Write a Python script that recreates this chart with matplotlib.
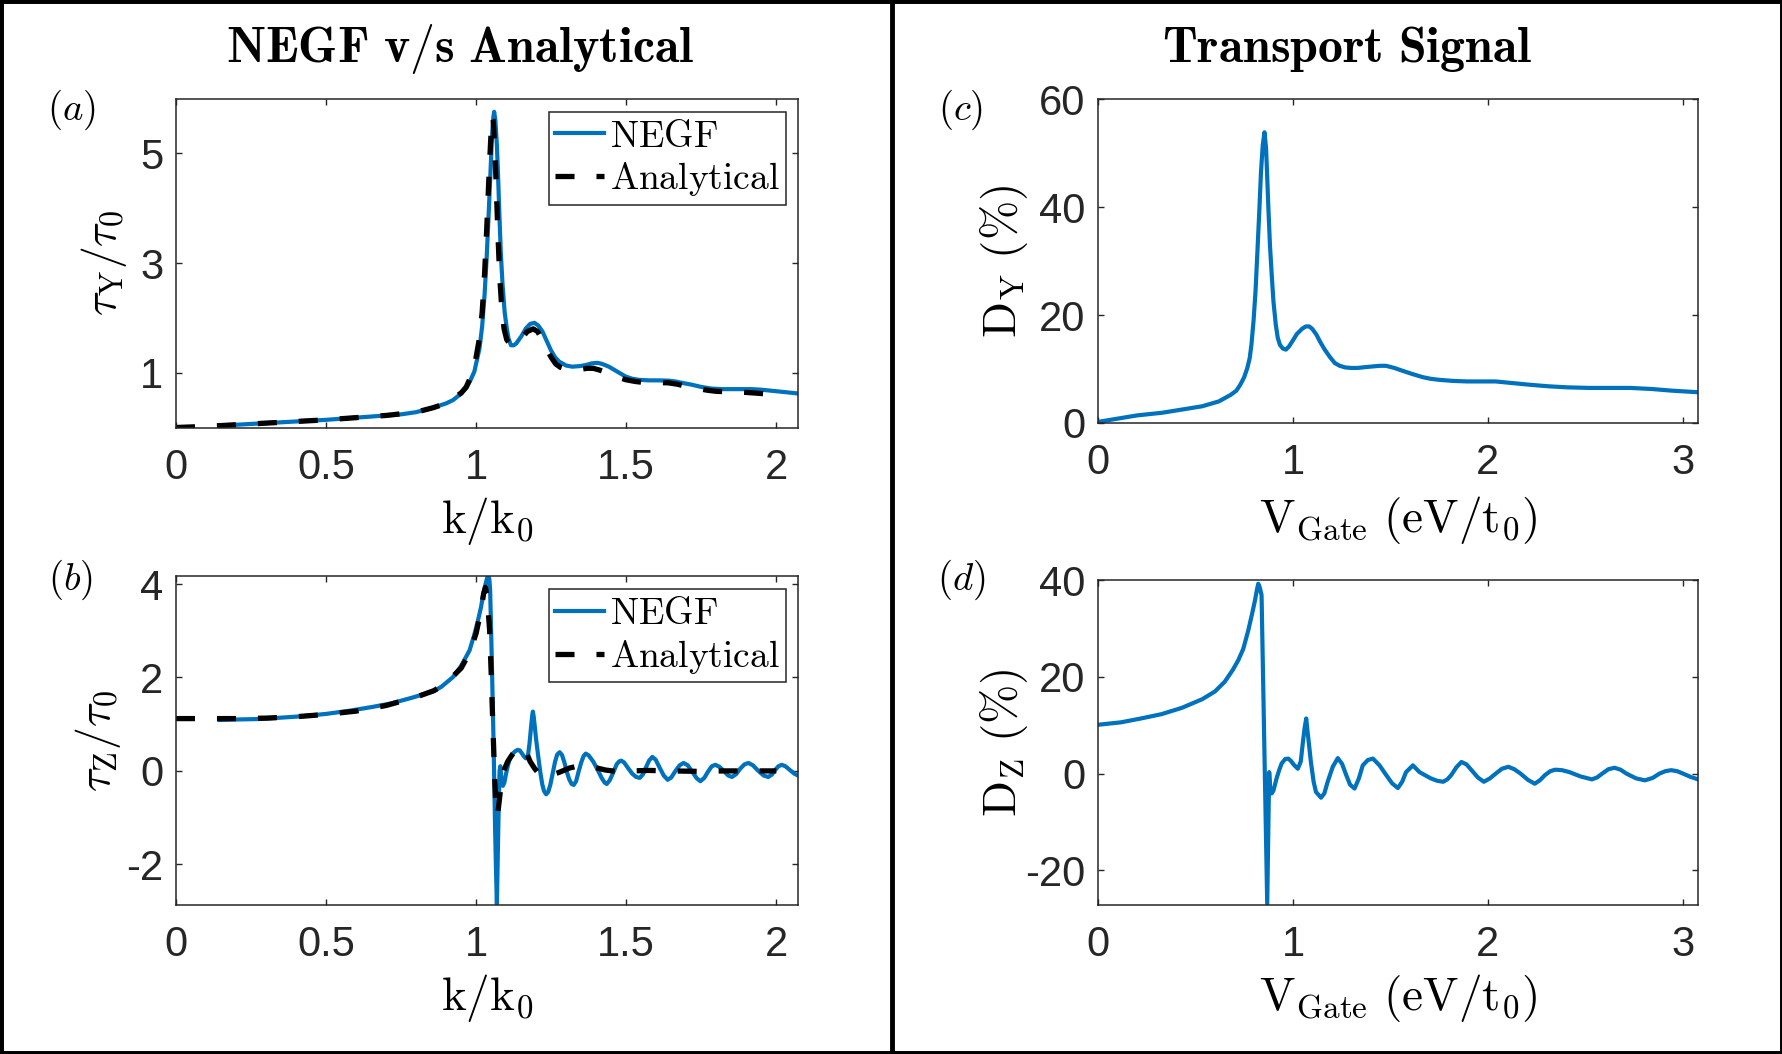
import numpy as np
import matplotlib
matplotlib.use("Agg")
import matplotlib.pyplot as plt
from matplotlib.patches import Rectangle
from matplotlib.lines import Line2D

plt.rcParams['mathtext.fontset'] = 'cm'
plt.rcParams['font.family'] = ['Liberation Sans', 'DejaVu Sans']
plt.rcParams['lines.scale_dashes'] = False
plt.rcParams['axes.unicode_minus'] = False

# (a) tau_Y / tau_0 vs k/k0
k_a_negf = [0.145, 0.2, 0.3, 0.4, 0.5, 0.6, 0.7, 0.75, 0.8, 0.856, 0.9, 0.923, 0.95, 0.967,
            0.98, 0.994, 1.011, 1.02, 1.028, 1.035, 1.042, 1.048, 1.053, 1.057, 1.06, 1.064,
            1.069, 1.073, 1.077, 1.082, 1.088, 1.095, 1.102, 1.108, 1.116, 1.125, 1.133, 1.15,
            1.166, 1.18, 1.194, 1.207, 1.221, 1.235, 1.249, 1.263, 1.277, 1.3, 1.32, 1.345,
            1.365, 1.385, 1.404, 1.42, 1.442, 1.47, 1.498, 1.52, 1.542, 1.575, 1.608, 1.64,
            1.664, 1.69, 1.719, 1.75, 1.785, 1.82, 1.852, 1.89, 1.918, 1.95, 1.985, 2.03, 2.073]
tauY_negf = [0.04, 0.05, 0.08, 0.11, 0.14, 0.18, 0.22, 0.24, 0.28, 0.36, 0.44, 0.50, 0.62, 0.72,
             0.85, 1.02, 1.44, 1.85, 2.42, 3.1, 3.94, 4.7, 5.33, 5.65, 5.76, 5.6,
             5.15, 4.6, 3.94, 3.2, 2.6, 2.1, 1.81, 1.62, 1.50, 1.50, 1.53, 1.66,
             1.81, 1.89, 1.91, 1.86, 1.75, 1.58, 1.41, 1.28, 1.20, 1.13, 1.11, 1.12,
             1.14, 1.17, 1.18, 1.16, 1.11, 1.02, 0.93, 0.89, 0.87, 0.86, 0.86, 0.855,
             0.84, 0.81, 0.78, 0.74, 0.71, 0.70, 0.70, 0.70, 0.70, 0.69, 0.67, 0.645, 0.62]

k_a_ana = [0.0, 0.1, 0.2, 0.3, 0.4, 0.5, 0.6, 0.7, 0.8, 0.856, 0.9, 0.95, 0.967, 0.98, 0.994,
           1.01, 1.02, 1.028, 1.035, 1.042, 1.048, 1.053, 1.057, 1.062, 1.067, 1.072, 1.078,
           1.085, 1.093, 1.102, 1.116, 1.13, 1.15, 1.17, 1.19, 1.205, 1.22, 1.235, 1.25, 1.265,
           1.28, 1.3, 1.32, 1.345, 1.37, 1.39, 1.41, 1.44, 1.47, 1.5, 1.53, 1.56, 1.6, 1.64,
           1.67, 1.7, 1.73, 1.77, 1.8, 1.85, 1.9, 1.95, 2.0]
tauY_ana = [0.0, 0.02, 0.05, 0.08, 0.11, 0.14, 0.18, 0.22, 0.28, 0.36, 0.44, 0.63, 0.74, 0.9, 1.1,
            1.6, 2.1, 2.8, 3.6, 4.5, 5.2, 5.67, 5.6, 5.1, 4.4, 3.6, 2.8,
            2.2, 1.8, 1.6, 1.5, 1.52, 1.62, 1.75, 1.80, 1.75, 1.6, 1.43, 1.28, 1.16,
            1.10, 1.06, 1.05, 1.06, 1.08, 1.08, 1.05, 0.99, 0.92, 0.87, 0.84, 0.82, 0.82, 0.815,
            0.79, 0.75, 0.72, 0.68, 0.66, 0.65, 0.64, 0.62, 0.60]

# (b) tau_Z / tau_0 vs k/k0
k_b_negf = [0.145, 0.2, 0.273, 0.35, 0.42, 0.5, 0.58, 0.655, 0.72, 0.788, 0.856, 0.884, 0.923,
            0.95, 0.978, 0.993, 1.006, 1.016, 1.024, 1.032, 1.037, 1.041, 1.044, 1.0466, 1.052,
            1.058, 1.063, 1.066, 1.069, 1.072, 1.075, 1.078, 1.0805, 1.084, 1.089, 1.094, 1.1,
            1.106, 1.111, 1.12, 1.13, 1.138, 1.145, 1.152, 1.158, 1.165, 1.172, 1.178, 1.183,
            1.187, 1.189, 1.192, 1.196, 1.2, 1.207, 1.214, 1.22, 1.226, 1.233, 1.24, 1.247,
            1.255, 1.263, 1.27, 1.278, 1.286, 1.294, 1.302, 1.31, 1.318, 1.325, 1.333, 1.341,
            1.35, 1.358, 1.365, 1.375, 1.39, 1.405, 1.418, 1.428, 1.435, 1.445, 1.457, 1.468,
            1.476, 1.483, 1.493, 1.506, 1.52, 1.533, 1.545, 1.556, 1.566, 1.576, 1.587, 1.598,
            1.612, 1.625, 1.638, 1.65, 1.664, 1.678, 1.691, 1.705, 1.72, 1.735, 1.747, 1.76,
            1.772, 1.785, 1.797, 1.81, 1.825, 1.84, 1.852, 1.866, 1.88, 1.894, 1.907, 1.922,
            1.94, 1.958, 1.973, 1.985, 1.996, 2.007, 2.018, 2.03, 2.045, 2.06, 2.073]
tauZ_negf = [1.09, 1.10, 1.11, 1.14, 1.17, 1.22, 1.29, 1.37, 1.45, 1.57, 1.70, 1.80, 2.01,
             2.25, 2.58, 2.9, 3.22, 3.5, 3.79, 4.02, 4.14, 4.17, 4.1, 3.87, 2.4,
             0.6, -1.2, -2.1, -2.85, -1.8, -0.8, 0.0, 0.1, -0.15, -0.32, -0.25, -0.05,
             0.12, 0.24, 0.36, 0.42, 0.45, 0.44, 0.38, 0.32, 0.27, 0.3, 0.6, 0.95,
             1.2, 1.27, 1.15, 0.9, 0.66, 0.3, -0.04, -0.28, -0.43, -0.5, -0.45, -0.3,
             -0.05, 0.2, 0.35, 0.4, 0.34, 0.18, -0.02, -0.18, -0.28, -0.3, -0.22, -0.02,
             0.18, 0.32, 0.37, 0.33, 0.2, 0.02, -0.15, -0.25, -0.28, -0.2, -0.03, 0.14,
             0.2, 0.22, 0.18, 0.06, -0.06, -0.13, -0.15, -0.07, 0.08, 0.22, 0.3, 0.24,
             0.06, -0.1, -0.19, -0.14, 0.0, 0.12, 0.17, 0.12, -0.02, -0.16, -0.22, -0.15,
             -0.02, 0.1, 0.13, 0.09, 0.0, -0.1, -0.13, -0.07, 0.05, 0.14, 0.17, 0.12,
             0.0, -0.1, -0.13, -0.08, 0.02, 0.1, 0.13, 0.1, 0.02, -0.06, -0.10]

k_b_ana = [0.0, 0.1, 0.2, 0.3, 0.4, 0.5, 0.6, 0.7, 0.8, 0.86, 0.9, 0.95, 0.98, 1.0, 1.015,
           1.025, 1.031, 1.037, 1.045, 1.05, 1.055, 1.062, 1.066, 1.069, 1.072, 1.075, 1.083,
           1.095, 1.105, 1.116, 1.135, 1.149, 1.16, 1.17, 1.18, 1.195, 1.21, 1.225, 1.245,
           1.277, 1.31, 1.343, 1.37, 1.398, 1.43, 1.465, 1.52, 1.575, 1.65, 1.741, 1.83,
           1.93, 2.0]
tauZ_ana = [1.12, 1.12, 1.12, 1.13, 1.16, 1.21, 1.28, 1.40, 1.58, 1.72, 1.88, 2.2, 2.55, 2.95,
            3.4, 3.8, 3.93, 3.7, 3.0, 2.1, 1.1, -0.2, -0.75, -0.95, -0.9, -0.75, -0.3,
            0.05, 0.2, 0.31, 0.48, 0.52, 0.47, 0.35, 0.2, 0.05, -0.07, -0.12, -0.1,
            -0.03, 0.06, 0.11, 0.1, 0.07, 0.02, -0.01, 0.0, 0.01, 0.0, -0.01, 0.0,
            0.0, 0.0]

# (c) D_Y (%) vs V_Gate
v_c = [0.0, 0.117, 0.2, 0.33, 0.45, 0.535, 0.62, 0.68, 0.71, 0.73, 0.75, 0.766, 0.778, 0.787,
       0.798, 0.808, 0.818, 0.828, 0.836, 0.845, 0.854, 0.862, 0.868, 0.874, 0.882, 0.891,
       0.9, 0.912, 0.922, 0.933, 0.948, 0.964, 0.98, 0.996, 1.02, 1.048, 1.066, 1.084, 1.1,
       1.12, 1.14, 1.163, 1.19, 1.215, 1.24, 1.268, 1.3, 1.33, 1.37, 1.414, 1.445, 1.477,
       1.52, 1.56, 1.61, 1.665, 1.705, 1.749, 1.82, 1.895, 1.97, 2.04, 2.125, 2.21, 2.31,
       2.41, 2.52, 2.63, 2.73, 2.84, 2.94, 3.077]
dY_c = [0.2, 0.9, 1.4, 1.9, 2.6, 3.1, 4.0, 5.2, 6.0, 7.1, 8.5, 10.2, 12.0, 14.5,
        19.0, 24.4, 32.0, 39.8, 46.5, 51.5, 53.9, 51.0, 45.5, 39.8, 33.0, 27.5,
        22.5, 18.2, 15.8, 14.5, 13.8, 13.6, 14.2, 15.1, 16.5, 17.5, 17.9, 17.9, 17.4,
        16.4, 15.0, 13.6, 12.2, 11.1, 10.6, 10.3, 10.2, 10.2, 10.35, 10.5, 10.6, 10.6,
        10.2, 9.7, 9.1, 8.5, 8.2, 8.0, 7.8, 7.7, 7.7, 7.7, 7.4, 7.1, 6.8,
        6.6, 6.5, 6.5, 6.5, 6.3, 6.0, 5.7]

# (d) D_Z (%) vs V_Gate
v_d = [0.0, 0.117, 0.22, 0.326, 0.43, 0.535, 0.6, 0.65, 0.692, 0.72, 0.745, 0.77, 0.79,
       0.805, 0.815, 0.822, 0.83, 0.839, 0.868, 0.878, 0.884, 0.891, 0.9, 0.916, 0.93,
       0.942, 0.96, 0.976, 0.99, 1.005, 1.025, 1.04, 1.051, 1.06, 1.068, 1.074, 1.081,
       1.092, 1.106, 1.118, 1.144, 1.161, 1.178, 1.204, 1.23, 1.252, 1.273, 1.293, 1.316,
       1.338, 1.358, 1.384, 1.41, 1.444, 1.478, 1.508, 1.538, 1.56, 1.58, 1.615, 1.649,
       1.68, 1.707, 1.74, 1.77, 1.792, 1.812, 1.838, 1.864, 1.89, 1.916, 1.948, 1.979,
       2.01, 2.04, 2.072, 2.105, 2.135, 2.167, 2.205, 2.24, 2.266, 2.293, 2.32, 2.345,
       2.38, 2.418, 2.475, 2.533, 2.56, 2.586, 2.618, 2.649, 2.68, 2.71, 2.76, 2.805,
       2.845, 2.88, 2.91, 2.94, 2.97, 3.0, 3.04, 3.077]
dZ_d = [10.1, 10.6, 11.4, 12.3, 13.6, 15.4, 17.0, 19.0, 21.5, 23.5, 25.8, 29.5, 33.0,
        35.8, 38.0, 39.3, 38.5, 36.9, -27.0, 0.3, -3.5, -4.1, -3.5, -1.0, 0.8,
        2.1, 3.0, 3.1, 2.6, 1.8, 1.0, 2.5, 6.5, 9.5, 11.4, 9.0, 6.5,
        2.4, -1.7, -3.8, -5.0, -4.1, -1.7, 1.4, 3.2, 2.0, -0.3, -2.3, -3.1,
        -1.0, 1.7, 2.8, 3.1, 1.7, -0.3, -2.0, -3.0, -1.7, 0.3, 1.7, 0.3,
        -0.4, -1.0, -1.5, -1.7, -1.2, -0.3, 1.3, 2.4, 1.9, 0.7, -0.8, -1.7,
        -1.0, 0.0, 1.0, 1.4, 0.9, 0.0, -1.3, -2.1, -1.4, -0.3, 0.5, 0.8,
        0.7, 0.3, -0.6, -1.2, -0.8, 0.0, 0.9, 1.2, 0.8, 0.0, -1.0, -1.4,
        -0.9, 0.0, 0.5, 0.7, 0.5, 0.0, -0.7, -1.2]

blue = '#0072BD'
axc = '0.15'
tick_fs = 30
label_fs = 34

fig = plt.figure(figsize=(17.83, 10.54), dpi=100)
ax_a = fig.add_axes([0.0987, 0.5944, 0.349, 0.312])
ax_b = fig.add_axes([0.0987, 0.1414, 0.349, 0.312])
ax_c = fig.add_axes([0.6158, 0.5987, 0.3365, 0.307])
ax_d = fig.add_axes([0.6158, 0.1414, 0.3365, 0.308])


def style(ax):
    ax.tick_params(direction='in', top=True, right=True, length=4.5, width=1,
                   colors=axc, labelsize=tick_fs)
    ax.tick_params(axis='x', pad=14.5)
    ax.tick_params(axis='y', pad=9)
    for s in ax.spines.values():
        s.set_color(axc)
        s.set_linewidth(1.1)


ax_a.plot(k_a_negf, tauY_negf, color=blue, lw=3.0, label=r'$\mathrm{NEGF}$')
ax_a.plot(k_a_ana, tauY_ana, color='k', lw=3.8, dashes=(13.7, 15.8), label=r'$\mathrm{Analytical}$')
ax_a.set_xlim(0, 2.073)
ax_a.set_ylim(0, 6)
ax_a.set_xticks([0, 0.5, 1, 1.5, 2], ['0', '0.5', '1', '1.5', '2'])
ax_a.set_yticks([1, 3, 5])

ax_b.plot(k_b_negf, tauZ_negf, color=blue, lw=3.0, label=r'$\mathrm{NEGF}$')
ax_b.plot(k_b_ana, tauZ_ana, color='k', lw=3.8, dashes=(13.7, 15.8), label=r'$\mathrm{Analytical}$')
ax_b.set_xlim(0, 2.073)
ax_b.set_ylim(-2.87, 4.17)
ax_b.set_xticks([0, 0.5, 1, 1.5, 2], ['0', '0.5', '1', '1.5', '2'])
ax_b.set_yticks([-2, 0, 2, 4])

ax_c.plot(v_c, dY_c, color=blue, lw=3.0)
ax_c.set_xlim(0, 3.077)
ax_c.set_ylim(0, 60)
ax_c.set_xticks([0, 1, 2, 3])
ax_c.set_yticks([0, 20, 40, 60])

ax_d.plot(v_d, dZ_d, color=blue, lw=3.0)
ax_d.set_xlim(0, 3.077)
ax_d.set_ylim(-27.2, 39.9)
ax_d.set_xticks([0, 1, 2, 3])
ax_d.set_yticks([-20, 0, 20, 40])

for ax in (ax_a, ax_b, ax_c, ax_d):
    style(ax)

for ax in (ax_a, ax_b):
    ax.legend(loc='upper right', bbox_to_anchor=(0.9807, 0.96), borderaxespad=0,
              fontsize=27, handlelength=1.3, handletextpad=0.15, borderpad=0.18,
              labelspacing=0.15, fancybox=False, framealpha=1, edgecolor=axc)
    ax.get_legend().get_frame().set_linewidth(1.1)

ax_a.set_ylabel(r'$\tau_\mathrm{Y}/\tau_0$', fontsize=33, va='center')
ax_a.yaxis.set_label_coords(-0.116, 0.5)
ax_b.set_ylabel(r'$\tau_\mathrm{Z}/\tau_0$', fontsize=33, va='center')
ax_b.yaxis.set_label_coords(-0.126, 0.5)
ax_c.set_ylabel(r'$\mathrm{D_Y\ (\%)}$', fontsize=label_fs, va='center')
ax_c.yaxis.set_label_coords(-0.158, 0.5)
ax_d.set_ylabel(r'$\mathrm{D_Z\ (\%)}$', fontsize=label_fs, va='center')
ax_d.yaxis.set_label_coords(-0.158, 0.5)

ax_a.set_xlabel(r'$\mathrm{k/k_0}$', fontsize=label_fs)
ax_a.xaxis.set_label_coords(0.5, -0.205)
ax_b.set_xlabel(r'$\mathrm{k/k_0}$', fontsize=label_fs)
ax_b.xaxis.set_label_coords(0.5, -0.205)
ax_c.set_xlabel(r'$\mathrm{V_{Gate}\ (eV/t_0)}$', fontsize=label_fs)
ax_c.xaxis.set_label_coords(0.5, -0.22)
ax_d.set_xlabel(r'$\mathrm{V_{Gate}\ (eV/t_0)}$', fontsize=label_fs)
ax_d.xaxis.set_label_coords(0.5, -0.208)

# panel tags and column titles
fig.text(0.0398, 0.8956, r'$(a)$', fontsize=28, ha='center', va='center')
fig.text(0.0393, 0.4497, r'$(b)$', fontsize=28, ha='center', va='center')
fig.text(0.539, 0.8956, r'$(c)$', fontsize=28, ha='center', va='center')
fig.text(0.539, 0.4497, r'$(d)$', fontsize=28, ha='center', va='center')

fig.text(0.258, 0.941, r'$\mathbf{NEGF\ v/s\ Analytical}$', fontsize=36, ha='center', va='baseline')
fig.text(0.7555, 0.941, r'$\mathbf{Transport\ Signal}$', fontsize=36, ha='center', va='baseline')

# outer frame and divider
fig.add_artist(Rectangle((0, 0), 1, 1, transform=fig.transFigure, fill=False,
                         edgecolor='k', lw=5))
fig.add_artist(Line2D([0.5003, 0.5003], [0, 1], transform=fig.transFigure,
                      color='k', lw=3.5))

fig.savefig('out.png', dpi=100)
